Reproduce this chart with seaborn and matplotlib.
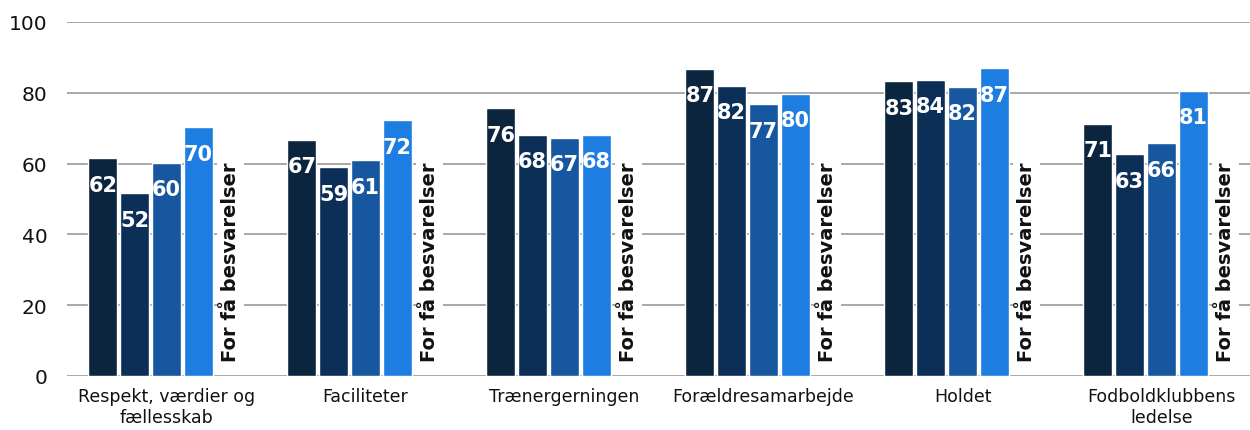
import numpy as np
import pandas as pd
import matplotlib
matplotlib.use("Agg")
import matplotlib.pyplot as plt
import seaborn as sns

categories = ["Respekt, værdier og\nfællesskab", "Faciliteter", "Trænergerningen",
              "Forældresamarbejde", "Holdet", "Fodboldklubbens\nledelse"]
series_names = ["Serie 1", "Serie 2", "Serie 3", "Serie 4", "Serie 5"]
serie1 = [61.6, 66.8, 75.6, 86.8, 83.3, 71.3]
serie2 = [51.6, 58.9, 68.2, 82.0, 83.7, 62.6]
serie3 = [60.3, 61.0, 67.3, 76.7, 81.7, 65.7]
serie4 = [70.3, 72.2, 68.2, 79.8, 87.0, 80.6]
serie5 = [np.nan] * 6
missing_text = "For få besvarelser"
colors = ["#0a253d", "#0c2f58", "#1657a0", "#1e7de0", "#7fb6f0"]
yticks = [0, 20, 40, 60, 80, 100]

rows = []
for name, vals in zip(series_names, [serie1, serie2, serie3, serie4, serie5]):
    for c, v in zip(categories, vals):
        rows.append({"kategori": c, "serie": name, "værdi": v})
df = pd.DataFrame(rows)

sns.set_theme(style="white")
plt.rcParams["font.family"] = ["DejaVu Sans"]

fig = plt.figure(figsize=(12.5, 4.31), dpi=100)
ax = fig.add_axes([67 / 1250, 1 - 377 / 431, 1 - 67 / 1250, (377 - 23) / 431])

sns.barplot(data=df, x="kategori", y="værdi", hue="serie", order=categories,
            hue_order=series_names, palette=colors, width=0.8, gap=0.1,
            dodge=True, legend=False, ax=ax, errorbar=None, saturation=1)

ax.set_ylim(0, 100)
ax.set_xlim(-0.5, -0.5 + (1250 - 67) / 199)
ax.set_yticks(yticks)
ax.yaxis.grid(True, color="#9a9a9a", linewidth=1.2)
ax.set_axisbelow(True)
for s in ax.spines.values():
    s.set_visible(False)
ax.set_xlabel("")
ax.set_ylabel("")
ax.tick_params(axis="y", labelsize=14.5, length=0, pad=14, colors="#111111")
ax.tick_params(axis="x", labelsize=12.5, length=0, pad=8, colors="#111111")

for cont in ax.containers:
    for bar in cont:
        h = bar.get_height()
        if np.isnan(h) or h == 0:
            continue
        ax.annotate(f"{h:.0f}", (bar.get_x() + bar.get_width() / 2, h),
                    xytext=(0, -12), textcoords="offset points",
                    ha="center", va="top", color="white",
                    fontsize=15, fontweight="bold")

n = len(series_names)
slot = 0.8 / n
for i in range(len(categories)):
    x = i - 0.4 + slot * (n - 1) + slot / 2
    ax.text(x, 4.2, missing_text, rotation=90, ha="center", va="bottom",
            fontsize=14, fontweight="bold", color="#111111",
            bbox=dict(facecolor="white", edgecolor="none", pad=3))

fig.savefig("out.png", dpi=100)
